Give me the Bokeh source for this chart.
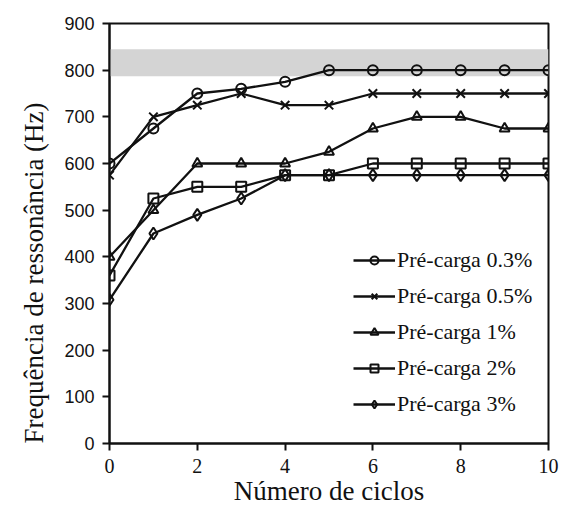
from bokeh.plotting import figure
from bokeh.models import Range1d, BoxAnnotation, Legend, LegendItem, FixedTicker, Title
from bokeh.embed import file_html
from bokeh.resources import INLINE

ciclos = [0, 1, 2, 3, 4, 5, 6, 7, 8, 9, 10]
pre_03 = [600, 675, 750, 760, 775, 800, 800, 800, 800, 800, 800]
pre_05 = [575, 700, 725, 750, 725, 725, 750, 750, 750, 750, 750]
pre_1 = [400, 500, 600, 600, 600, 625, 675, 700, 700, 675, 675]
pre_2 = [360, 525, 550, 550, 575, 575, 600, 600, 600, 600, 600]
pre_3 = [308, 450, 490, 525, 575, 575, 575, 575, 575, 575, 575]
labels = ["Pré-carga 0.3%", "Pré-carga 0.5%", "Pré-carga 1%", "Pré-carga 2%", "Pré-carga 3%"]
markers = ["circle", "x", "triangle", "square", "diamond"]
band = [787, 845]
x_ticks = [0, 2, 4, 6, 8, 10]
y_ticks = [0, 100, 200, 300, 400, 500, 600, 700, 800, 900]

p = figure(width=563, height=508, output_backend="svg", toolbar_location=None,
           x_range=Range1d(0, 10), y_range=Range1d(0, 900),
           min_border_left=109, min_border_right=15, min_border_top=23, min_border_bottom=65)
p.background_fill_color = "white"
p.border_fill_color = "white"
p.outline_line_color = "#111111"
p.outline_line_width = 2
p.grid.visible = False

p.add_layout(BoxAnnotation(bottom=band[0], top=band[1], fill_color="#d4d4d4", fill_alpha=1.0,
                           line_color=None, level="underlay"))

serif = "Liberation Serif"
p.xaxis.ticker = FixedTicker(ticks=x_ticks)
p.yaxis.ticker = FixedTicker(ticks=y_ticks)
for ax in (p.xaxis[0], p.yaxis[0]):
    ax.axis_line_color = "#111111"
    ax.axis_line_width = 2
    ax.major_tick_line_color = "#111111"
    ax.major_tick_line_width = 2
    ax.major_tick_in = 0
    ax.major_tick_out = 7
    ax.minor_tick_line_color = None
    ax.major_label_text_color = "#111111"
    ax.axis_label_text_color = "#111111"
    ax.axis_label_text_font = serif
    ax.axis_label_text_font_style = "normal"
    ax.axis_label_text_font_size = "27px"

p.xaxis.major_label_text_font = serif
p.xaxis.major_label_text_font_size = "20px"
p.xaxis.major_label_standoff = 8
p.xaxis.axis_label = "Número de ciclos"
p.xaxis.axis_label_standoff = 0

p.yaxis.major_label_text_font = "Liberation Sans"
p.yaxis.major_label_text_font_size = "18px"
p.yaxis.major_label_standoff = 8

p.add_layout(Title(text="Frequência de ressonância (Hz)", align="left",
                   text_font=serif, text_font_size="27px", text_color="#111111",
                   text_font_style="normal", standoff=26), "left")

items = []
for ys, lab, mk in zip([pre_03, pre_05, pre_1, pre_2, pre_3], labels, markers):
    ln = p.line(ciclos, ys, line_color="#111111", line_width=2.3)
    sz = 12 if mk in ("diamond", "x") else 10
    sc = p.scatter(ciclos, ys, marker=mk, size=sz, line_color="#111111", line_width=2,
                   fill_color=None)
    items.append(LegendItem(label=lab, renderers=[ln, sc]))

leg = Legend(items=items, location=(244, 26), border_line_color=None,
             background_fill_alpha=0, label_text_font=serif, label_text_font_size="22px",
             label_text_color="#111111", glyph_width=42, glyph_height=20, label_height=20,
             spacing=10, padding=0, margin=0, label_standoff=2)
p.add_layout(leg, "center")

open("out.html", "w").write(file_html(p, INLINE))
